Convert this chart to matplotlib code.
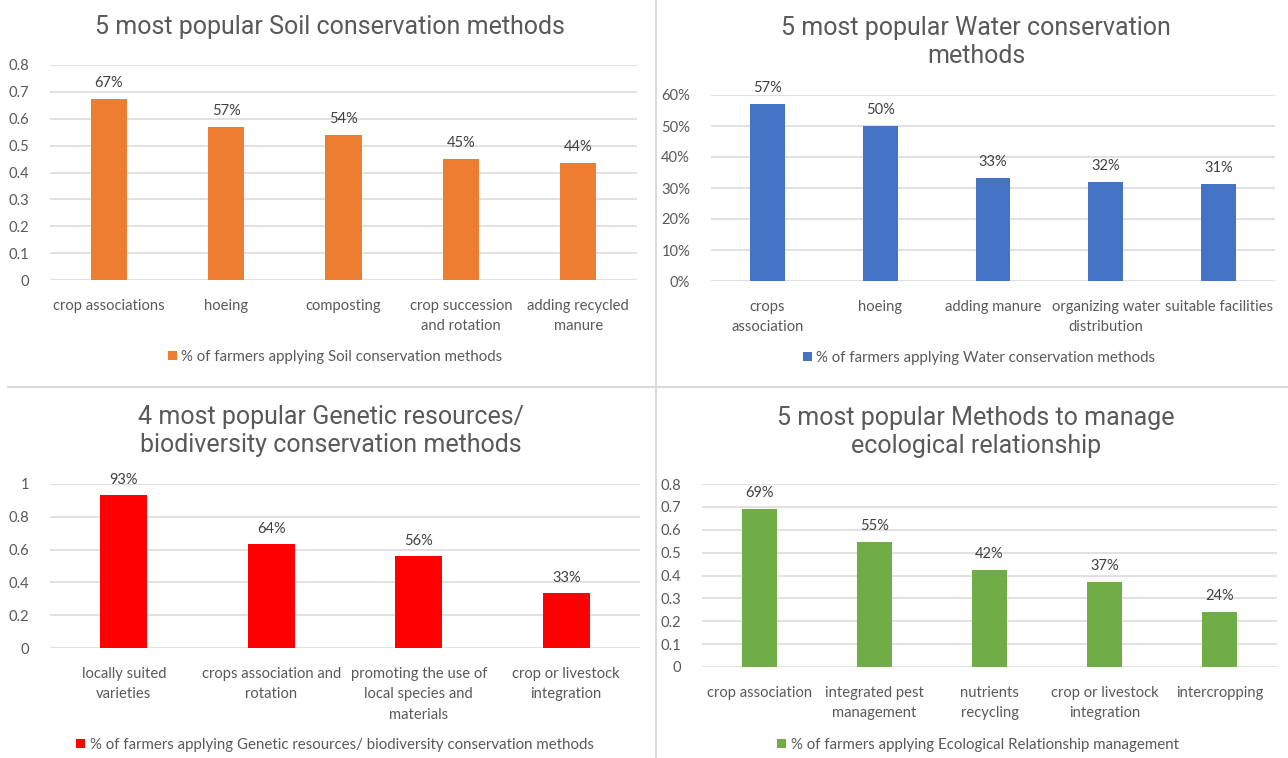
import numpy as np
import matplotlib
matplotlib.use('Agg')
import matplotlib.pyplot as plt
import matplotlib.ticker as mticker

# data
soil_labels = ['crop associations', 'hoeing', 'composting',
               'crop succession\nand rotation', 'adding recycled\nmanure']
soil_vals = [0.673, 0.571, 0.541, 0.449, 0.435]

water_labels = ['crops\nassociation', 'hoeing', 'adding manure',
                'organizing water\ndistribution', 'suitable facilities']
water_vals = [0.57, 0.50, 0.332, 0.318, 0.313]

gen_labels = ['locally suited\nvarieties', 'crops association and\nrotation',
              'promoting the use of\nlocal species and\nmaterials',
              'crop or livestock\nintegration']
gen_vals = [0.933, 0.636, 0.562, 0.333]

eco_labels = ['crop association', 'integrated pest\nmanagement',
              'nutrients\nrecycling', 'crop or livestock\nintegration',
              'intercropping']
eco_vals = [0.689, 0.548, 0.425, 0.372, 0.241]

W, H = 1288, 758
grid_col = '#d9d9d9'
txt_col = '#595959'
lab_col = '#404040'

plt.rcParams['font.family'] = ['Lato', 'DejaVu Sans']

fig = plt.figure(figsize=(W / 100, H / 100), dpi=100)


def px_axes(x0, x1, ytop, ybot):
    return fig.add_axes([x0 / W, 1 - ybot / H, (x1 - x0) / W, (ybot - ytop) / H])


def panel(box, labels, vals, color, ymax, step, yfmt, title, title_xy,
          legend_txt, legend_xy, width=0.31, label_pad=16):
    ax = px_axes(*box)
    x = np.arange(len(vals))
    bars = ax.bar(x, vals, width=width, color=color, zorder=3,
                  label=legend_txt)
    ax.set_xlim(-0.5, len(vals) - 0.5)
    ax.set_ylim(0, ymax)
    ax.set_yticks(np.arange(0, ymax + step / 2, step))
    ax.yaxis.set_major_formatter(mticker.FuncFormatter(yfmt))
    ax.grid(axis='y', color=grid_col, linewidth=1.1, zorder=0)
    for s in ax.spines.values():
        s.set_visible(False)
    ax.tick_params(length=0, labelsize=10.6, labelcolor=txt_col)
    ax.tick_params(axis='y', pad=15)
    ax.tick_params(axis='x', pad=14)
    ax.set_xticks(x)
    ax.set_xticklabels(labels, linespacing=1.55, va='top')
    for xi, v in zip(x, vals):
        ax.annotate('{:.0%}'.format(v), (xi, v), xytext=(0, label_pad),
                    textcoords='offset pixels', ha='center', va='center',
                    fontsize=10.5, color=lab_col)
    fig.text(title_xy[0] / W, 1 - title_xy[1] / H, title, ha='center',
             va='center', fontsize=18, color=txt_col, family='Roboto',
             linespacing=1.2)
    fig.legend(handles=[bars], labels=[legend_txt], loc='center',
               bbox_to_anchor=(legend_xy[0] / W, 1 - legend_xy[1] / H),
               frameon=False, fontsize=10.8, labelcolor=txt_col,
               handlelength=0.6, handleheight=0.6, handletextpad=0.3)
    return ax


def dec(v, pos):
    return '{:g}'.format(round(v, 2))


def pct(v, pos):
    return '{:.0f}%'.format(v * 100)


panel((50, 637, 65, 280), soil_labels, soil_vals, '#ED7D31', 0.8, 0.1, dec,
      '5 most popular Soil conservation methods', (330, 27),
      '% of farmers applying Soil conservation methods', (335, 357))

panel((711, 1275, 95, 281), water_labels, water_vals, '#4472C4', 0.6, 0.1, pct,
      '5 most popular Water conservation\nmethods', (976, 42),
      '% of farmers applying Water conservation methods', (979, 358))

panel((50, 640, 484, 648), gen_labels, gen_vals, '#FF0000', 1.0, 0.2, dec,
      '4 most popular Genetic resources/\nbiodiversity conservation methods',
      (331, 431),
      '% of farmers applying Genetic resources/ biodiversity conservation methods',
      (335, 745), width=0.32, label_pad=15)

panel((702, 1277, 484, 667), eco_labels, eco_vals, '#70AD47', 0.8, 0.1, dec,
      '5 most popular Methods to manage\necological relationship', (976, 432),
      '% of farmers applying Ecological Relationship management', (978, 745))

# panel separators
fig.add_artist(plt.Line2D([656 / W, 656 / W], [0, 1], color=grid_col,
                          linewidth=1.5))
fig.add_artist(plt.Line2D([8 / W, 1], [1 - 387 / H, 1 - 387 / H],
                          color=grid_col, linewidth=1.5))

plt.savefig('out.png', dpi=100)
